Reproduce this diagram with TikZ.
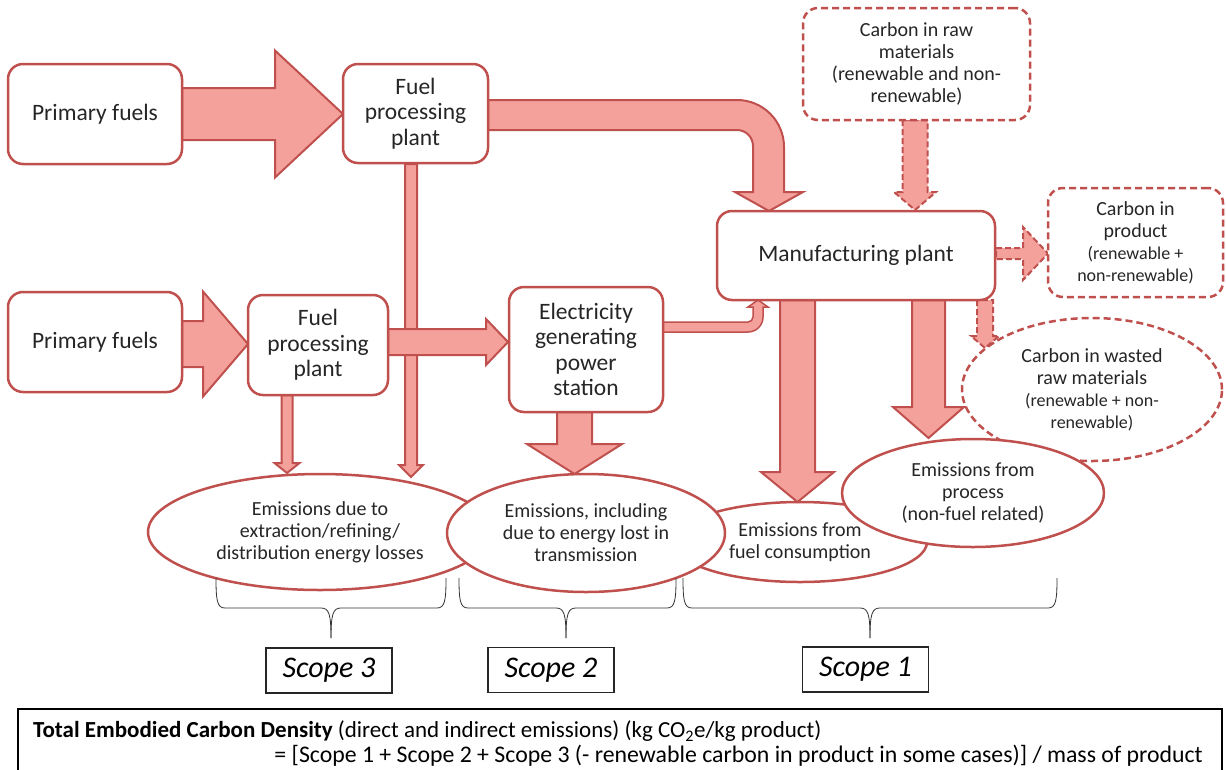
\documentclass[tikz,border=0pt]{standalone}
\usepackage{fontspec}
\setmainfont{Carlito}
\usetikzlibrary{shapes.geometric}
\definecolor{myred}{HTML}{C0504D}
\definecolor{mypink}{HTML}{F4A19C}
\definecolor{mytext}{HTML}{262626}
\newcommand{\sm}{\fontsize{18}{21}\selectfont}
% down arrow: [style]{xc}{shaft hw}{ystart}{head base y}{head hw}{tip y}
\newcommand{\DArr}[7][arr]{\draw[#1] ({#2-#3},#4) -- ({#2-#3},#5) -- ({#2-#6},#5) -- (#2,#7) -- ({#2+#6},#5) -- ({#2+#3},#5) -- ({#2+#3},#4) -- cycle;}
% right arrow: [style]{yc}{shaft hw}{xstart}{head base x}{head hw}{tip x}
\newcommand{\RArr}[7][arr]{\draw[#1] (#4,{#2-#3}) -- (#5,{#2-#3}) -- (#5,{#2-#6}) -- (#7,#2) -- (#5,{#2+#6}) -- (#5,{#2+#3}) -- (#4,{#2+#3}) -- cycle;}
% brace: {x1}{x2}{xm}
\newcommand{\Brc}[3]{%
\draw[brace] (#1,578) .. controls (#1,600) and ({#1+1},608) .. ({#1+9},608) -- ({#3-10},608) .. controls ({#3-2},608) and (#3,614) .. (#3,638);
\draw[brace] (#2,578) .. controls (#2,600) and ({#2-1},608) .. ({#2-9},608) -- ({#3+10},608) .. controls ({#3+2},608) and (#3,614) .. (#3,638);}
\begin{document}
\begin{tikzpicture}[x=1pt,y=-1pt,
  box/.style={draw=myred, line width=2.5pt, rounded corners=15pt, fill=white, align=center, text=mytext, inner sep=0pt, font=\fontsize{23.5}{25.5}\selectfont},
  dbox/.style={box, dash pattern=on 7pt off 4pt, font=\fontsize{20}{22}\selectfont},
  ell/.style={ellipse, draw=myred, line width=2.5pt, fill=white, align=center, inner sep=0pt, text=mytext, font=\fontsize{20}{22}\selectfont},
  arr/.style={draw=myred, fill=mypink, line width=2pt, line join=miter},
  darr/.style={arr, dash pattern=on 6pt off 3pt},
  scopebox/.style={draw=black!85, line width=1.5pt, inner sep=0pt, minimum width=126pt, minimum height=45pt, font=\fontsize{30}{32}\selectfont\itshape},
  brace/.style={draw=black!80, line width=0.8pt}]
\useasboundingbox (0,0) rectangle (1226,769);
\fill[white] (0,0) rectangle (1226,769);

% ellipses
\node[ell, dash pattern=on 7pt off 4pt, minimum width=260pt, minimum height=143pt] (ewaste) at (1092,389.5) {Carbon in wasted\\raw materials\\{\sm (renewable + non-}\\{\sm renewable)}};
\node[ell, minimum width=254pt, minimum height=80pt] (efuel) at (800,542) {Emissions from\\fuel consumption};
\node[ell, minimum width=344pt, minimum height=116pt] (e3) at (320,532) {Emissions due to\\extraction/refining/\\distribution energy losses};
\node[ell, minimum width=278pt, minimum height=118pt] (e2) at (586,533) {Emissions, including\\due to energy lost in\\transmission};
\node[ell, minimum width=262pt, minimum height=108pt] (eproc) at (973,493) {Emissions from\\process\\(non-fuel related)};

% block arrows
\RArr{114}{26}{182}{275}{63.5}{343}
\RArr{344}{23}{182}{203}{52.5}{248}
\DArr{411}{6}{164}{465}{12}{477}
\RArr{342}{13}{388}{486}{23}{508}
\DArr{287}{5.5}{395}{463}{12.5}{473}
\DArr{574.5}{17.5}{412}{444}{47.5}{474}
\DArr{797.5}{17.5}{300}{472}{36.5}{502}
\DArr{928.5}{16.5}{300}{407}{35.5}{438}
\DArr[darr]{915}{12.5}{120}{192}{21}{210}
\DArr[darr]{985}{8}{300}{336}{14}{348}
\RArr[darr]{253.5}{5.5}{996}{1023}{26.5}{1048}
% curved arrow fuel processing -> manufacturing
\draw[arr] (488,100) -- (737,100) arc[start angle=-90,end angle=0,radius=47] -- (784,192) -- (803,192) -- (769,211) -- (735,192) -- (753,192) -- (753,146) arc[start angle=0,end angle=-90,radius=16] -- (488,130) -- cycle;
% thin curved arrow electricity -> manufacturing
\draw[arr, line width=1.5pt] (663,332) -- (748,332) arc[start angle=90,end angle=0,radius=15] -- (763,307) -- (768,307) -- (758,300) -- (748,307) -- (753,307) -- (753,317) arc[start angle=0,end angle=90,radius=5] -- (663,322) -- cycle;

% boxes
\node[box, minimum width=174pt, minimum height=100pt] (pf1) at (95,114) {Primary fuels};
\node[box, minimum width=145pt, minimum height=99pt] (fpp1) at (415.5,113.5) {Fuel\\processing\\plant};
\node[dbox, minimum width=227pt, minimum height=112pt] (raw) at (916.5,64) {Carbon in raw\\materials\\(renewable and non-\\renewable)};
\node[box, minimum width=278pt, minimum height=89pt] (mfg) at (856,255.5) {Manufacturing plant};
\node[dbox, minimum width=175pt, minimum height=109pt] (prod) at (1135.5,242.5) {Carbon in\\product\\{\sm (renewable +}\\{\sm non-renewable)}};
\node[box, minimum width=174pt, minimum height=100pt] (pf2) at (95,342) {Primary fuels};
\node[box, minimum width=140pt, minimum height=100pt] (fpp2) at (318,345) {Fuel\\processing\\plant};
\node[box, minimum width=154pt, minimum height=125pt] (elec) at (586,349.5) {Electricity\\generating\\power\\station};

% braces
\Brc{216}{446}{331}
\Brc{459}{676}{566}
\Brc{683}{1057}{870}

% scope boxes
\node[scopebox] (s3) at (329,670.5) {Scope 3};
\node[scopebox] (s2) at (551,670) {Scope 2};
\node[scopebox] (s1) at (865.5,669.5) {Scope 1};

% total box
\draw[black, line width=2pt] (18,709) rectangle (1222,790);
\node[anchor=west, inner sep=0pt, font=\fontsize{23}{25}\selectfont] (t1) at (33,731) {\textbf{Total Embodied Carbon Density} (direct and indirect emissions) (kg CO\textsubscript{2}e/kg product)};
\node[anchor=east, inner sep=0pt, font=\fontsize{23.8}{25}\selectfont] (t2) at (1203,756) {= [Scope 1 + Scope 2 + Scope 3 (- renewable carbon in product in some cases)] / mass of product};
\end{tikzpicture}
\end{document}
